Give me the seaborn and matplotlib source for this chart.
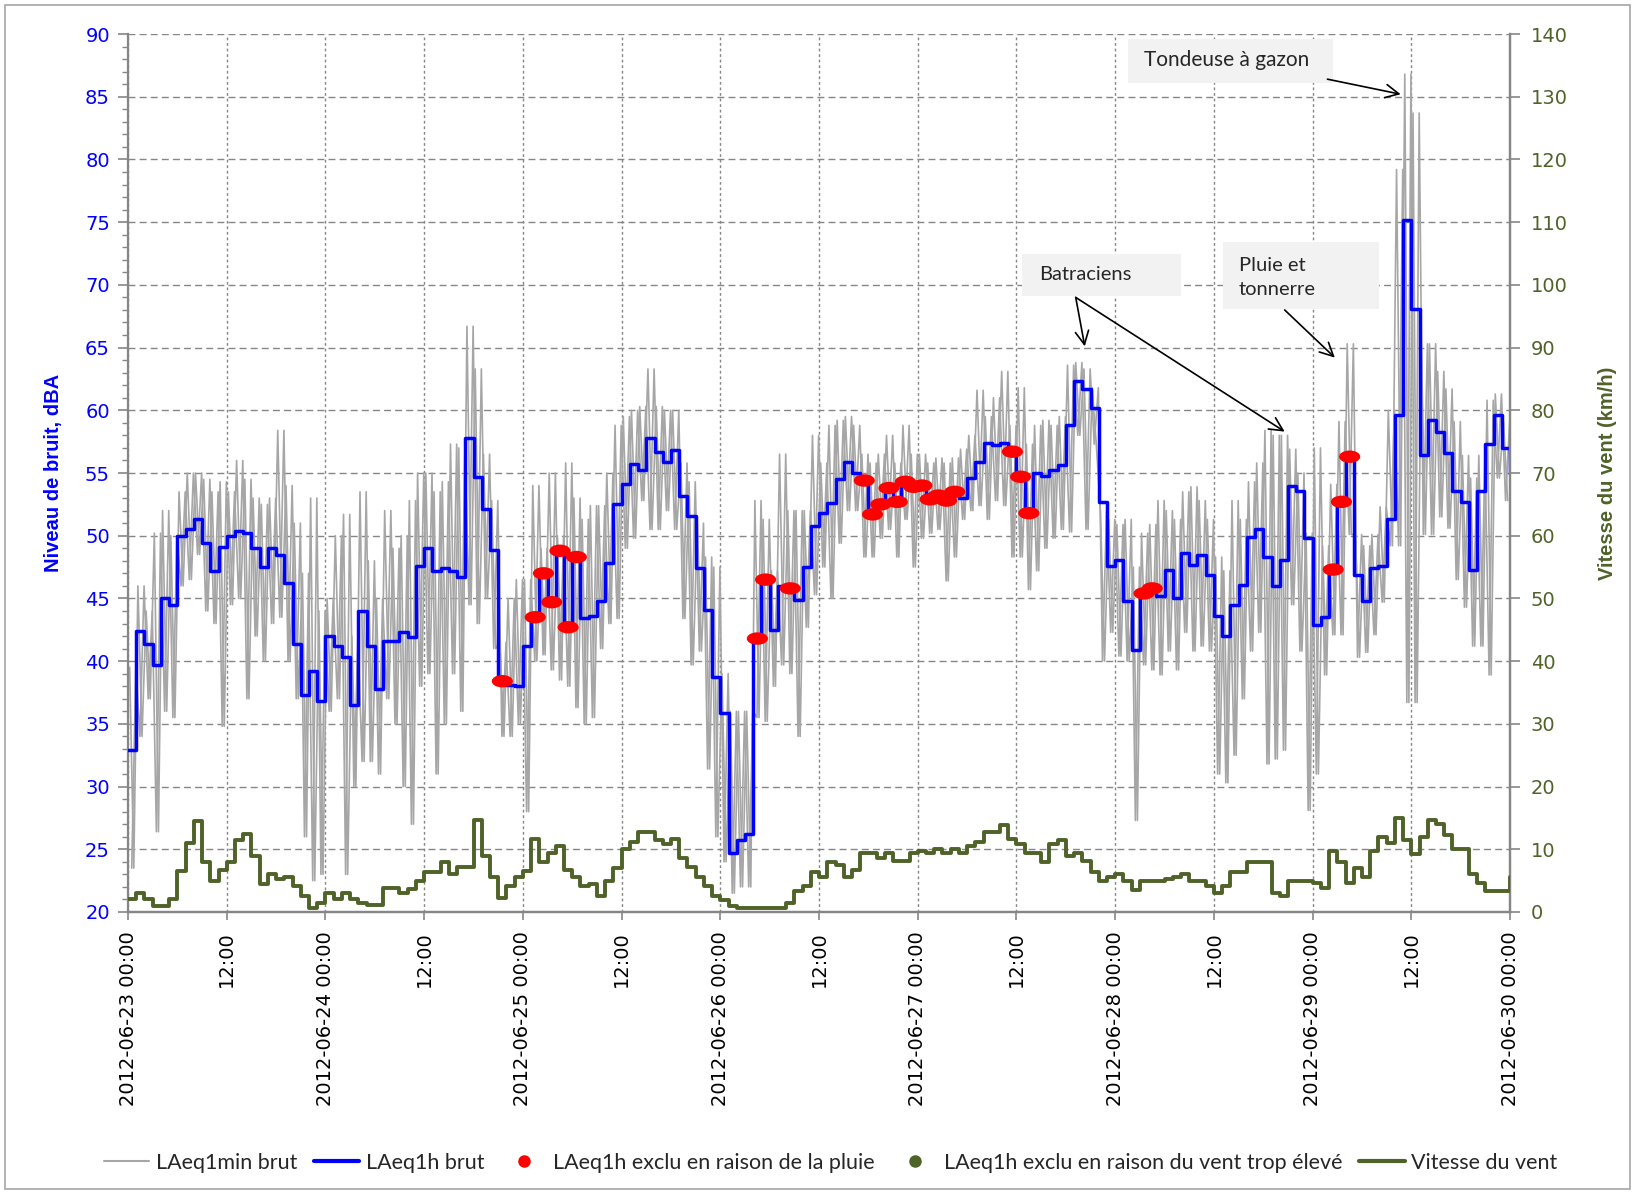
import numpy as np
import pandas as pd
import matplotlib
matplotlib.use("Agg")
import matplotlib.pyplot as plt
import seaborn as sns
from matplotlib.lines import Line2D
from matplotlib.markers import MarkerStyle
from matplotlib.patches import Rectangle
from matplotlib.transforms import Affine2D
from matplotlib.ticker import MultipleLocator, FuncFormatter

debut = pd.Timestamp("2012-06-23 00:00")

# LAeq1h brut, une valeur par heure (dBA), derniere valeur = fin de serie
laeq1h = [
    32.9, 42.4, 41.4, 39.7, 45.0, 44.5, 50.0, 50.5, 51.3, 49.4, 47.2, 49.1,
    50.0, 50.4, 50.2, 49.0, 47.5, 49.0, 48.5, 46.2, 41.4, 37.3, 39.2, 36.8,
    42.0, 41.2, 40.3, 36.5, 44.0, 41.2, 37.8, 41.6, 41.6, 42.3, 41.9, 47.6,
    49.0, 47.2, 47.4, 47.2, 46.7, 57.8, 54.7, 52.1, 48.9, 38.4, 38.1, 38.0,
    41.2, 43.5, 47.0, 44.7, 48.8, 42.7, 48.3, 43.4, 43.6, 44.8, 47.8, 52.5,
    54.1, 55.7, 55.2, 57.8, 56.7, 55.9, 56.8, 53.2, 51.6, 47.4, 44.1, 38.7,
    35.9, 24.7, 25.7, 26.2, 41.8, 46.5, 42.5, 46.0, 45.8, 44.9, 47.5, 50.8,
    51.8, 52.6, 54.5, 55.9, 55.0, 54.4, 51.7, 52.5, 53.8, 52.7, 54.3, 53.9,
    54.0, 52.9, 53.2, 52.8, 53.5, 53.0, 54.6, 55.9, 57.4, 57.2, 57.4, 56.7,
    54.7, 51.8, 55.0, 54.8, 55.2, 55.6, 58.8, 62.3, 61.7, 60.2, 52.7, 47.6,
    48.1, 44.8, 40.9, 45.4, 45.8, 45.2, 47.3, 45.0, 48.6, 47.7, 48.5, 46.9,
    43.6, 42.0, 44.5, 46.1, 49.9, 50.5, 48.3, 46.0, 48.1, 54.0, 53.6, 49.8,
    42.9, 43.5, 47.3, 52.7, 56.3, 46.9, 44.8, 47.4, 47.6, 51.3, 59.6, 75.2,
    68.1, 56.4, 59.2, 58.3, 56.6, 53.6, 52.7, 47.3, 53.6, 57.3, 59.6, 57.0,
    54.9,
]

# vitesse du vent (km/h), par heure
vent = [
    2.0, 3.0, 2.0, 1.0, 1.0, 2.0, 6.5, 11.0, 14.5, 8.0, 5.0, 6.7,
    8.0, 11.5, 12.5, 9.0, 4.5, 6.0, 5.2, 5.5, 4.1, 2.5, 0.7, 1.5,
    3.0, 2.0, 3.0, 2.0, 1.5, 1.1, 1.1, 3.9, 3.9, 3.0, 3.7, 4.9,
    6.4, 6.4, 7.9, 6.0, 7.1, 7.1, 14.6, 9.0, 5.6, 2.2, 4.1, 5.6,
    6.5, 11.6, 7.9, 9.4, 10.5, 6.7, 5.6, 4.1, 4.5, 2.5, 5.0, 7.0,
    10.1, 11.2, 12.7, 12.7, 11.5, 10.9, 11.6, 8.6, 7.1, 5.6, 4.1, 2.6,
    1.9, 1.0, 0.7, 0.7, 0.7, 0.7, 0.7, 0.7, 1.5, 3.4, 4.1, 6.4,
    5.6, 7.9, 7.5, 5.6, 6.7, 9.4, 9.4, 8.6, 9.4, 8.2, 8.2, 9.4,
    9.7, 9.4, 10.1, 9.4, 10.1, 9.4, 10.5, 11.2, 12.7, 12.7, 13.9, 11.6,
    10.9, 9.4, 9.4, 7.9, 10.9, 11.5, 9.0, 9.4, 8.2, 6.4, 4.9, 5.5,
    6.0, 4.9, 3.5, 4.9, 4.9, 4.9, 5.2, 5.6, 6.0, 4.9, 4.9, 4.1,
    3.0, 4.1, 6.4, 6.4, 7.9, 7.9, 7.9, 3.0, 2.6, 4.9, 4.9, 4.9,
    4.7, 3.8, 9.7, 7.9, 4.7, 7.0, 5.6, 9.7, 11.9, 11.0, 15.0, 11.4,
    9.2, 11.9, 14.6, 14.1, 12.3, 10.1, 10.1, 6.1, 4.7, 3.4, 3.4, 3.4,
    5.6,
]

# LAeq1min brut : enveloppe haute / basse lue pour chaque heure
gris_haut = [
    39.5, 46, 44, 50.2, 52, 50, 53.5, 55, 55, 54.5, 53.5, 54.3,
    53.5, 56, 54.5, 53, 52.5, 53, 58.4, 54, 51, 47, 53, 44,
    45, 50, 51.7, 42, 53.5, 48, 45, 52, 49, 50, 52.8, 55,
    55, 53.5, 54.3, 57.3, 57, 66.7, 63.3, 56.5, 52.8, 41.5, 45, 46.5,
    46.5, 54, 49, 55, 50, 55.8, 53, 51.3, 52.4, 52.4, 55, 58.8,
    59.5, 60, 60.3, 63.3, 60.3, 60, 60, 55.8, 54.3, 51, 48.3, 47.5,
    39, 36, 36, 36, 52.8, 51.3, 47.2, 56.5, 52, 52, 52, 58,
    55.8, 58.8, 59.2, 59.5, 58.8, 56.5, 55.8, 56.5, 58, 55.8, 58.8, 56.5,
    56.5, 55.8, 56.2, 55.8, 56.2, 56.9, 58, 61.6, 59.5, 61, 63.1, 58.8,
    61.8, 57.3, 58.8, 59.2, 58.8, 59.5, 63.6, 63.8, 63.3, 61.8, 52, 51.3,
    50.9, 51.3, 47.5, 50.2, 50.9, 52.8, 52, 51.3, 53.5, 53.9, 52.8, 51.3,
    48.3, 47.2, 52.8, 51.3, 54.3, 55.8, 58.4, 58, 58, 56.9, 55, 50.2,
    57, 49.2, 54.1, 59.1, 65.3, 50.1, 49.2, 50.1, 52.3, 60, 79.2, 86.8,
    83.7, 65.3, 65.3, 63.1, 61.7, 59.1, 56.4, 54.6, 56.4, 60.8, 61.3, 59.1,
]
gris_bas = [
    23.5, 34, 37, 26.4, 36, 35.5, 46, 46.5, 48.5, 44, 43, 34.8,
    44.5, 45, 37, 42, 40, 43, 43.5, 40, 37, 26, 22.5, 23,
    36, 37, 23, 30, 32, 32, 31, 37, 35, 30, 27, 38,
    39, 31, 35, 39, 36, 44.5, 43, 45, 41, 34, 34, 35,
    28, 40, 40.5, 39.3, 38.5, 38, 36.3, 35, 35.5, 41, 43, 43.4,
    49, 49.8, 52.8, 50.5, 50.5, 52, 50.5, 43.4, 39.7, 40.8, 31.4, 26,
    24, 21.5, 22, 22, 35.5, 35.2, 38, 39.7, 39, 34, 42.7, 45.3,
    47.5, 45, 49.4, 52, 52, 48.3, 48.3, 49.8, 50.5, 48.3, 51.3, 47.5,
    49.8, 50.2, 50.5, 46.4, 48.3, 51.3, 52, 52.4, 51.3, 52.8, 52.4, 48.3,
    48.3, 45.7, 47.2, 49, 49.8, 50.5, 50.3, 58, 50.5, 57.3, 40, 42.3,
    40.4, 40, 27.3, 39.7, 39.3, 38.9, 40.8, 39.3, 42.3, 40.8, 41.2, 40.8,
    31, 30.3, 32.5, 37, 40.8, 42.3, 31.8, 32.2, 32.9, 44.5, 40.8, 28.1,
    31, 38.9, 42.1, 42.1, 50.1, 40.3, 40.7, 42.1, 44.7, 49.2, 49.2, 36.7,
    36.7, 50.1, 50.1, 51.5, 50.6, 46.5, 44.3, 41.2, 41.2, 38.9, 54.6, 52.8,
]

# heures exclues en raison de la pluie
heures_pluie = [45, 49, 50, 51, 52, 53, 54, 76, 77, 80,
                89, 90, 91, 92, 93, 94, 95, 96, 97, 98, 99, 100,
                107, 108, 109, 123, 124, 146, 147, 148]

BLEU = "#0000ff"
GRIS = "#a6a6a6"
OLIVE = "#4f6228"
ROUGE = "#ff0000"
AXE = "#868686"

sns.set_theme(style="ticks")
plt.rcParams['font.family'] = ['DejaVu Sans']

heures = np.arange(len(laeq1h))
df_h = pd.DataFrame({"heure": heures, "laeq": laeq1h, "vent": vent})
n = len(gris_haut)
t_a = np.column_stack([np.arange(n) + 0.2, np.arange(n) + 0.7]).ravel()
t_b = np.column_stack([np.arange(n) + 0.45, np.arange(n) + 0.95]).ravel()
df_min = pd.DataFrame({"heure": t_a, "laeq": np.column_stack([gris_haut, gris_bas]).ravel()})
df_min2 = pd.DataFrame({"heure": t_b, "laeq": np.column_stack([gris_bas, gris_haut]).ravel()})
df_pluie = df_h.loc[heures_pluie].copy()
df_pluie["heure"] = df_pluie["heure"] + 0.5

fig = plt.figure(figsize=(16.35, 11.94), dpi=100)
ax = fig.add_axes([0.0783, 0.2362, 0.8453, 0.7353])

# minute data : trace en dents de scie entre les extremes de chaque heure
sns.lineplot(data=df_min, x="heure", y="laeq", color=GRIS, lw=1.2, ax=ax, zorder=2)
sns.lineplot(data=df_min2, x="heure", y="laeq", color=GRIS, lw=1.2, ax=ax, zorder=2)
sns.lineplot(data=df_h, x="heure", y="laeq", color=BLEU, lw=2.5,
             drawstyle="steps-post", ax=ax, zorder=3)
ellipse = MarkerStyle("o", transform=Affine2D().scale(1.7, 1.0))
sns.scatterplot(data=df_pluie, x="heure", y="laeq", color=ROUGE, marker=ellipse,
                s=80, edgecolor="none", ax=ax, zorder=4, legend=False)

ax2 = ax.twinx()
sns.lineplot(data=df_h, x="heure", y="vent", color=OLIVE, lw=2.8,
             drawstyle="steps-post", ax=ax2, zorder=3)

# axes
ax.set_xlim(0, 168)
ax.set_ylim(20, 90)
ax2.set_ylim(0, 140)
ax.xaxis.set_major_locator(MultipleLocator(12))
ax.yaxis.set_major_locator(MultipleLocator(5))
ax.yaxis.set_minor_locator(MultipleLocator(1))
ax2.yaxis.set_major_locator(MultipleLocator(10))


def fmt_date(h, pos):
    t = debut + pd.Timedelta(hours=float(h))
    return t.strftime("%Y-%m-%d %H:%M") if t.hour == 0 else t.strftime("%H:%M")


ax.xaxis.set_major_formatter(FuncFormatter(fmt_date))
ax.tick_params(axis="x", labelrotation=90, labelsize=14, length=6, width=1.2,
               color=AXE, pad=8, labelcolor="black")
ax.tick_params(axis="y", which="major", labelsize=14, length=7, width=1.2,
               color=AXE, labelcolor=BLEU, pad=6)
ax.tick_params(axis="y", which="minor", length=4, width=1.0, color=AXE, left=True)
ax2.tick_params(axis="y", labelsize=14, length=7, width=1.2, color=AXE,
                labelcolor=OLIVE, pad=8)

titre = ["Liberation Sans", "DejaVu Sans"]
ax.set_xlabel("")
ax.set_ylabel("Niveau de bruit, dBA", color=BLEU, fontsize=14.5, fontweight="bold",
              family=titre, labelpad=16)
ax2.set_ylabel("Vitesse du vent (km/h)", color=OLIVE, fontsize=14.5, fontweight="bold",
               family=titre, labelpad=22)

ax.grid(True, axis="y", color=AXE, linestyle=(0, (5, 3)), lw=1.0)
ax.grid(True, axis="x", color=AXE, linestyle=(0, (2, 2)), lw=1.0)
ax.set_axisbelow(True)
ax2.grid(False)
for a in (ax, ax2):
    a.spines["top"].set_visible(False)
    for s in ("left", "right", "bottom"):
        a.spines[s].set_color(AXE)
        a.spines[s].set_linewidth(1.6)
ax2.spines["left"].set_visible(False)

# annotations
boite = "#f2f2f2"
police = ["Lato", "DejaVu Sans"]
ax.add_patch(Rectangle((121.5, 86.1), 25.0, 3.5, facecolor=boite, edgecolor="none", zorder=5))
ax.text(133.6, 87.9, "Tondeuse à gazon", ha="center", va="center", fontsize=15,
        family=police, zorder=6)
ax.add_patch(Rectangle((108.7, 69.1), 19.3, 3.4, facecolor=boite, edgecolor="none", zorder=5))
ax.text(110.8, 70.8, "Batraciens", ha="left", va="center", fontsize=14.5, family=police, zorder=6)
ax.add_patch(Rectangle((133.1, 68.1), 19.0, 5.3, facecolor=boite, edgecolor="none", zorder=5))
ax.text(135.0, 70.6, "Pluie et\ntonnerre", ha="left", va="center", fontsize=14.5,
        family=police, linespacing=1.5, zorder=6)

fleche = dict(arrowstyle="->", color="black", lw=1.2, mutation_scale=24, shrinkA=0, shrinkB=0)
ax.annotate("", xy=(154.7, 85.2), xytext=(145.8, 86.4), arrowprops=fleche, zorder=6)
ax.annotate("", xy=(116.3, 65.1), xytext=(115.2, 69.0), arrowprops=fleche, zorder=6)
ax.annotate("", xy=(140.6, 58.3), xytext=(115.2, 69.0), arrowprops=fleche, zorder=6)
ax.annotate("", xy=(146.7, 64.2), xytext=(140.6, 68.0), arrowprops=fleche, zorder=6)

# legende
poignees = [
    Line2D([], [], color=GRIS, lw=1.5),
    Line2D([], [], color=BLEU, lw=3),
    Line2D([], [], color=ROUGE, marker="o", ls="none", ms=8),
    Line2D([], [], color=OLIVE, marker="o", ls="none", ms=8),
    Line2D([], [], color=OLIVE, lw=3),
]
etiquettes = ["LAeq1min brut", "LAeq1h brut", "LAeq1h exclu en raison de la pluie",
              "LAeq1h exclu en raison du vent trop élevé", "Vitesse du vent"]
fig.legend(poignees, etiquettes, loc="center", bbox_to_anchor=(0.508, 0.026), ncol=5,
           frameon=False, prop={"family": police, "size": 15.5}, handlelength=2.1,
           columnspacing=0.8, handletextpad=0.3)

fig.add_artist(Rectangle((0.003, 0.004), 0.994, 0.992, transform=fig.transFigure,
                         fill=False, edgecolor="#a6a6a6", lw=1.2))

fig.savefig("out.png", dpi=100)
